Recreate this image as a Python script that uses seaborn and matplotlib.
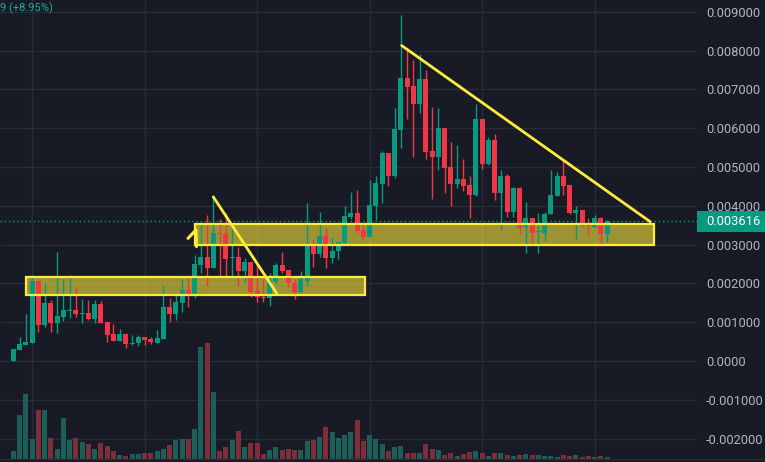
import numpy as np
import pandas as pd
import matplotlib
matplotlib.use("Agg")
import matplotlib.pyplot as plt
import matplotlib.transforms as mtransforms
from matplotlib.patches import Rectangle
from matplotlib.lines import Line2D
import seaborn as sns

# OHLC, in units of 0.001
open_k = [0.00, 0.28, 0.42, 0.47, 2.06, 0.93, 1.49, 0.98, 1.13, 1.29,
          1.31, 1.21, 1.23, 1.08, 1.47, 1.00, 0.70, 0.52, 0.70, 0.44,
          0.46, 0.62, 0.57, 0.47, 0.56, 1.39, 1.22, 1.49, 1.83, 1.68,
          2.47, 2.68, 2.40, 3.30, 3.27, 2.65, 2.68, 2.33, 2.56, 1.80,
          1.66, 1.63, 2.04, 2.47, 2.35, 2.02, 1.77, 2.07, 3.02, 2.76,
          3.22, 2.65, 2.83, 3.03, 3.72, 3.82, 3.38, 3.20, 4.00, 4.56,
          5.35, 4.77, 5.95, 7.29, 7.09, 6.63, 7.27, 5.41, 5.27, 6.01,
          5.00, 4.57, 4.69, 4.54, 4.28, 6.24, 5.08, 5.70, 4.34, 4.77,
          3.85, 4.46, 3.45, 3.68, 3.32, 3.31, 3.79, 4.26, 4.77, 4.54,
          3.81, 3.89, 3.50, 3.46, 3.68, 3.27]
high_k = [0.31, 0.61, 1.21, 2.21, 2.06, 2.00, 1.57, 2.81, 2.11, 2.21,
          1.90, 1.60, 1.57, 1.57, 1.55, 1.00, 0.95, 0.82, 0.73, 0.67,
          0.67, 0.62, 0.61, 0.80, 1.95, 1.62, 1.70, 2.11, 2.13, 2.73,
          3.53, 3.76, 4.23, 3.66, 3.81, 3.42, 2.95, 2.65, 2.56, 2.47,
          2.11, 2.28, 2.52, 2.82, 2.35, 2.11, 2.33, 4.06, 3.12, 3.85,
          3.44, 3.19, 3.10, 3.99, 4.36, 4.40, 3.56, 4.66, 4.77, 5.42,
          5.35, 6.53, 8.92, 8.02, 7.76, 7.91, 7.50, 6.54, 6.52, 6.01,
          5.64, 5.57, 5.21, 4.77, 6.62, 6.24, 5.78, 5.85, 4.92, 4.82,
          4.49, 4.49, 4.09, 3.68, 3.82, 3.83, 4.92, 4.86, 5.21, 4.54,
          3.99, 3.89, 3.68, 3.76, 3.70, 3.63]
low_k = [0.00, 0.28, 0.42, 0.47, 0.76, 0.88, 0.76, 0.71, 1.04, 1.12,
         1.13, 0.98, 1.06, 0.97, 0.97, 0.50, 0.52, 0.52, 0.34, 0.41,
         0.39, 0.41, 0.45, 0.47, 0.56, 1.01, 1.06, 1.26, 1.38, 1.63,
         2.28, 1.93, 2.40, 2.17, 2.17, 2.17, 1.92, 2.02, 1.66, 1.53,
         1.53, 1.42, 1.98, 2.26, 1.90, 1.61, 1.76, 1.93, 2.41, 2.67,
         2.39, 2.52, 2.64, 2.99, 3.65, 3.29, 3.14, 3.20, 3.63, 4.06,
         4.52, 4.72, 5.50, 6.24, 5.27, 6.38, 5.20, 4.18, 4.93, 4.34,
         4.00, 4.47, 4.39, 3.69, 4.26, 4.95, 5.05, 4.15, 3.40, 3.70,
         3.70, 3.27, 2.78, 3.05, 2.78, 3.10, 3.79, 4.26, 4.28, 3.78,
         3.14, 3.45, 3.25, 3.44, 2.99, 3.07]
close_k = [0.31, 0.44, 0.49, 2.06, 0.93, 1.49, 0.98, 1.16, 1.31, 1.31,
           1.21, 1.23, 1.08, 1.47, 0.98, 0.67, 0.52, 0.70, 0.45, 0.46,
           0.62, 0.54, 0.48, 0.59, 1.39, 1.22, 1.52, 1.83, 1.68, 2.50,
           2.68, 2.40, 3.30, 3.27, 2.63, 2.66, 2.33, 2.56, 1.79, 1.64,
           1.63, 2.07, 2.47, 2.33, 2.00, 1.79, 2.11, 3.02, 2.76, 3.22,
           2.65, 2.84, 3.07, 3.74, 3.82, 3.35, 3.20, 4.02, 4.60, 5.35,
           4.77, 5.98, 7.29, 7.07, 6.63, 7.27, 5.39, 5.27, 6.01, 4.98,
           4.57, 4.69, 4.51, 4.28, 6.24, 5.08, 5.70, 4.34, 4.77, 3.85,
           4.46, 3.44, 3.68, 3.29, 3.33, 3.79, 4.28, 4.77, 4.52, 3.81,
           3.89, 3.48, 3.49, 3.68, 3.27, 3.616]
volume = [8, 44, 65, 20, 49, 49, 21, 10, 41, 19,
          21, 17, 15, 10, 16, 13, 8, 4, 3, 5,
          5, 6, 6, 8, 10, 14, 19, 20, 20, 30,
          112, 116, 67, 8, 12, 19, 28, 12, 16, 16,
          5, 9, 12, 9, 10, 9, 9, 18, 19, 22,
          32, 27, 21, 24, 27, 39, 18, 24, 20, 15,
          8, 12, 13, 6, 6, 6, 15, 10, 9, 4,
          6, 3, 5, 7, 8, 6, 3, 6, 6, 4,
          3, 4, 5, 4, 4, 3, 3, 2, 4, 3,
          4, 2, 3, 2, 3, 2]

price_ticks = [-0.002, -0.001, 0.0, 0.001, 0.002, 0.003, 0.004,
               0.005, 0.006, 0.007, 0.008, 0.009]
price_labels = ["-0.002000", "-0.001000", "0.0000", "0.001000", "0.002000",
                "0.003000", "0.004000", "0.005000", "0.006000", "0.007000",
                "0.008000", "0.009000"]
last_price = 0.003616
last_label = "0.003616"
change_text = "9 (+8.95%)"

# drawings: zones (x0, x1, low, high) and trend lines, in bar index / price
zones = [(1.98, 56.3, 0.00170, 0.002165), (29.07, 102.5, 0.00299, 0.00352)]
trend_lines = [([32.0, 42.14], [0.00423, 0.001745]),
               ([62.14, 101.9], [0.00813, 0.00359])]
hook_x = [27.95, 29.23, 29.31]
hook_y = [0.00316, 0.00338, 0.00295]

bg = "#181B26"
grid_c = "#282C37"
up_c, down_c = "#089981", "#F23645"
vol_up, vol_down = "#1E5E58", "#7C2E3B"
yellow = "#FFEB3B"
text_c = "#B2B5BE"

sns.set_theme(style="dark", rc={"axes.facecolor": bg, "figure.facecolor": bg,
                                "grid.color": grid_c, "axes.grid": True})
plt.rcParams["font.family"] = ["Roboto", "DejaVu Sans"]

df = pd.DataFrame({"idx": np.arange(len(open_k)),
                   "open": np.array(open_k) * 1e-3,
                   "high": np.array(high_k) * 1e-3,
                   "low": np.array(low_k) * 1e-3,
                   "close": np.array(close_k) * 1e-3,
                   "volume": volume})
df["side"] = np.where(df["close"] >= df["open"], "up", "down")
colors = df["side"].map({"up": up_c, "down": down_c})

fig = plt.figure(figsize=(7.65, 4.62), dpi=100)
rect = [0, 3 / 462, 697 / 765, 459 / 462]
ax = fig.add_axes(rect)
vax = fig.add_axes(rect, sharex=ax)
vax.set_zorder(ax.get_zorder() + 1)
vax.patch.set_visible(False)

# volume pane
sns.barplot(data=df, x="idx", y="volume", hue="side", native_scale=True,
            palette={"up": vol_up, "down": vol_down}, dodge=False, width=0.8,
            saturation=1, linewidth=0, errorbar=None, legend=False, ax=vax)
vax.set_ylim(0, 459)
vax.axis("off")

# zones under the candles
for x0, x1, lo, hi in zones:
    ax.add_patch(Rectangle((x0, lo), x1 - x0, hi - lo, facecolor=yellow,
                           alpha=0.58, edgecolor="none", zorder=1))
    ax.add_patch(Rectangle((x0, lo), x1 - x0, hi - lo, facecolor="none",
                           edgecolor=yellow, lw=1.6, zorder=4))

# candles
ax.vlines(df["idx"], df["low"], df["high"], colors=colors, lw=1, zorder=2)
body_lo = np.minimum(df["open"], df["close"])
body_h = np.maximum((df["close"] - df["open"]).abs(), 0.00003)
ax.bar(df["idx"], body_h, bottom=body_lo, width=0.8, color=colors,
       linewidth=0, zorder=3)

for xs, ys in trend_lines:
    ax.plot(xs, ys, color=yellow, lw=2, solid_capstyle="round", zorder=5)
ax.plot(hook_x, hook_y, color=yellow, lw=2.2, solid_capstyle="round",
        solid_joinstyle="round", zorder=5)

ax.axhline(last_price, color=up_c, ls=(0, (1, 2)), lw=1, zorder=2)

ax.set_xlim(-2.128, 109.39)
ax.set_ylim(-0.002526, 0.009304)
ax.set_xticks([3, 21, 39, 57, 75, 93])
ax.set_yticks(price_ticks)
ax.set_yticklabels(price_labels)
ax.yaxis.tick_right()
ax.tick_params(axis="x", labelbottom=False, length=0)
ax.tick_params(axis="y", length=0, pad=6.5, labelcolor=text_c, labelsize=9.3)
ax.grid(True, color=grid_c, lw=1)
for s in ax.spines.values():
    s.set_visible(False)

# last price badge on the scale
blend = mtransforms.blended_transform_factory(fig.transFigure, ax.transData)
ax.add_patch(Rectangle((697 / 765, 0.003325), 1 - 697 / 765, 0.000541,
                       transform=blend, facecolor=up_c, edgecolor="none",
                       clip_on=False, zorder=10))
ax.text(706 / 765, 0.003595, last_label, transform=blend, color="white",
        fontsize=9.3, va="center", ha="left", clip_on=False, zorder=11)

fig.text(0.5 / 765, 1 - 8 / 462, change_text, color="#22AB94", fontsize=8,
         ha="left", va="center")
fig.add_artist(Line2D([0, 1], [3 / 462, 3 / 462], color=grid_c, lw=1,
                      transform=fig.transFigure))

fig.savefig("out.png", dpi=100, facecolor=bg)
